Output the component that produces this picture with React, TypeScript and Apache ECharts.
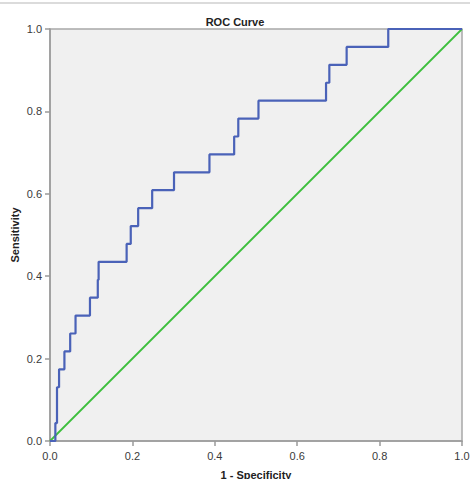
import React, { useEffect, useRef } from "react";
import * as echarts from "echarts";

const fpr = [0, 0.013, 0.017, 0.022, 0.035, 0.049, 0.062, 0.097, 0.116, 0.118, 0.186, 0.196, 0.214, 0.248, 0.301, 0.387, 0.447, 0.457, 0.506, 0.670, 0.678, 0.720, 0.821, 1.0];
const tprCount = [0, 1, 3, 4, 5, 6, 7, 8, 9, 10, 11, 12, 13, 14, 15, 16, 17, 18, 19, 20, 21, 22, 23, 23];
const positives = 23;
const refLine = [[0, 0], [1, 1]];

export default function App() {
  const ref = useRef<HTMLDivElement>(null);
  useEffect(() => {
    if (!ref.current) return;
    const chart = echarts.init(ref.current, undefined, { renderer: "svg" });
    const curve = fpr.map((x, i) => [x, tprCount[i] / positives]);
    const font = "Liberation Sans, Arial, sans-serif";
    const axisCommon = {
      type: "value" as const,
      min: 0,
      max: 1,
      interval: 0.2,
      splitLine: { show: false },
      axisLine: { show: true, lineStyle: { color: "#9a9a9a", width: 1.5 } },
      axisTick: { show: true, inside: false, length: 5, lineStyle: { color: "#9a9a9a", width: 1.5 } },
      nameLocation: "middle" as const,
      nameMoveOverlap: false,
      nameTextStyle: { fontFamily: font, fontSize: 11, fontWeight: "bold" as const, color: "#222" },
    };
    chart.setOption({
      animation: false,
      backgroundColor: "#ffffff",
      title: {
        text: "ROC Curve",
        left: "center",
        top: 11,
        textStyle: { fontFamily: font, fontSize: 11, fontWeight: "bold", color: "#222" },
      },
      grid: {
        left: 50,
        top: 29,
        width: 412,
        height: 412,
        containLabel: false,
        outerBoundsMode: "none",
        show: true,
        backgroundColor: "#f0f0f0",
        borderColor: "#a8a8a8",
        borderWidth: 1.5,
      },
      xAxis: {
        ...axisCommon,
        name: "1 - Specificity",
        nameGap: 28,
        axisLabel: {
          margin: 9,
          fontFamily: font,
          fontSize: 11,
          color: "#3a3a3a",
          formatter: (v: number) => v.toFixed(1),
        },
      },
      yAxis: {
        ...axisCommon,
        name: "Sensitivity",
        nameGap: 30,
        axisLabel: {
          margin: 8,
          fontFamily: font,
          fontSize: 11,
          color: "#3a3a3a",
          formatter: (v: number) => v.toFixed(1),
        },
      },
      graphic: [
        { type: "line", shape: { x1: 0, y1: 3, x2: 470, y2: 3 }, style: { stroke: "#cfcfcf", lineWidth: 1.5 } },
      ],
      series: [
        {
          type: "line",
          data: refLine,
          symbol: "none",
          lineStyle: { color: "#3cbf3c", width: 1.8 },
          z: 2,
        },
        {
          type: "line",
          data: curve,
          step: "end",
          symbol: "none",
          lineStyle: { color: "#4a62b8", width: 2.2 },
          z: 3,
        },
      ],
    });
    return () => chart.dispose();
  }, []);
  return (
    <div
      ref={ref}
      style={{ position: "fixed", left: 0, top: 0, width: 470, height: 479 }}
    />
  );
}
